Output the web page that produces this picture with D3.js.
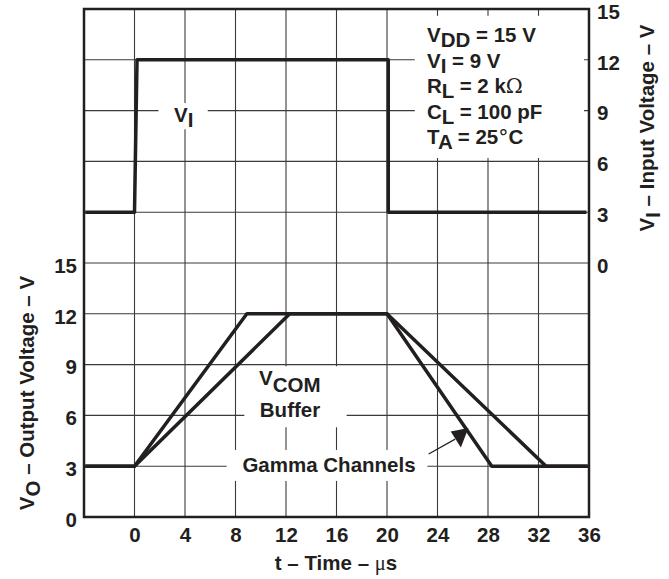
<!DOCTYPE html>
<html>
<head>
<meta charset="utf-8">
<script src="https://cdn.jsdelivr.net/npm/d3@7"></script>
<style>
  body { margin: 0; background: #fff; }
  svg text { font-family: "Liberation Sans", Arial, sans-serif; font-weight: bold; fill: #231f20; }
</style>
</head>
<body>
<svg width="669" height="579"></svg>
<script>
// time axis (us)
const timeTicks = [0, 4, 8, 12, 16, 20, 24, 28, 32, 36];
const outTicks = [0, 3, 6, 9, 12, 15];   // left axis, V_O
const inTicks = [0, 3, 6, 9, 12, 15];    // right axis, V_I

// V_I input step (right axis)
const viTime = [-3.9, 0, 0.2, 20.1, 20.1, 35.8];
const viVolt = [3, 3, 12, 12, 3, 3];

// gamma channels (fast edges)
const gammaTime = [-3.9, 0, 8.9, 20, 28.3, 35.9];
const gammaVolt = [3, 3, 12, 12, 3, 3];

// vcom buffer (slow edges)
const vcomTime = [-3.9, 0, 12.3, 20, 32.6, 35.9];
const vcomVolt = [3, 3, 12, 12, 3, 3];

const conditions = [
  ["V", "DD", " = 15 V"],
  ["V", "I", " = 9 V"],
  ["R", "L", " = 2 k", "Ω"],
  ["C", "L", " = 100 pF"],
  ["T", "A", " = 25", "°", "C"]
];

const svg = d3.select("svg");
const fs = 20.5;

var x = d3.scaleLinear().domain([-4, 36]).range([84, 589]);
var yL = d3.scaleLinear().domain([0, 30]).range([517, 9]);
var yR = d3.scaleLinear().domain([-15, 15]).range([517, 9]);

// grid
var grid = svg.append("g").attr("stroke", "#3a3a3a").attr("stroke-width", 1.1);
d3.range(0, 36, 4).forEach((t) => {
  grid.append("line").attr("x1", x(t)).attr("x2", x(t)).attr("y1", yL(0)).attr("y2", yL(30));
});
d3.range(3, 30, 3).forEach((v) => {
  grid.append("line").attr("x1", x(-4)).attr("x2", x(36)).attr("y1", yL(v)).attr("y2", yL(v));
});

// white boxes behind labels (in data units: t0,t1, v0,v1 on left scale)
var boxes = [
  [1.9, 5.8, 22.9, 24.45],    // V_I
  [8.7, 16.8, 5.3, 8.9],      // V_COM buffer
  [7.3, 23.2, 2.13, 3.96],    // gamma channels
  [22.2, 35.6, 21.2, 29.6]    // conditions
];
svg.append("g").selectAll("rect").data(boxes).join("rect")
  .attr("x", (d) => x(d[0])).attr("width", (d) => x(d[1]) - x(d[0]))
  .attr("y", (d) => yL(d[3])).attr("height", (d) => yL(d[2]) - yL(d[3]))
  .attr("fill", "#fff");

// frame
svg.append("rect")
  .attr("x", x(-4)).attr("y", yL(30))
  .attr("width", x(36) - x(-4)).attr("height", yL(0) - yL(30))
  .attr("fill", "none").attr("stroke", "#231f20").attr("stroke-width", 2.5);

// traces
function trace(ts, vs, yScale) {
  var line = d3.line().x((d) => x(d[0])).y((d) => yScale(d[1]));
  svg.append("path")
    .attr("d", line(d3.zip(ts, vs)))
    .attr("fill", "none").attr("stroke", "#231f20")
    .attr("stroke-width", 3.5).attr("stroke-linejoin", "round");
}
trace(viTime, viVolt, yR);
trace(gammaTime, gammaVolt, yL);
trace(vcomTime, vcomVolt, yL);

// axes
var axL = svg.append("g").attr("transform", `translate(${x(-4)},0)`)
  .call(d3.axisLeft(yL).tickValues(outTicks).tickSize(0).tickPadding(7).tickFormat(d3.format("d")));
var axR = svg.append("g").attr("transform", `translate(${x(36)},0)`)
  .call(d3.axisRight(yR).tickValues(inTicks).tickSize(0).tickPadding(8).tickFormat(d3.format("d")));
var axB = svg.append("g").attr("transform", `translate(0,${yL(0)})`)
  .call(d3.axisBottom(x).tickValues(timeTicks).tickSize(0).tickPadding(10).tickFormat(d3.format("d")));
[axL, axR, axB].forEach((a) => {
  a.select(".domain").remove();
  a.selectAll("text").attr("font-size", fs).attr("font-family", null);
});
// labels on the side axes sit a little below their grid line
axL.selectAll("text").attr("dy", "0.45em");
axR.selectAll("text").attr("dy", "0.45em");

// axis titles
svg.append("text").attr("x", 336).attr("y", 570).attr("text-anchor", "middle").attr("font-size", fs)
  .call((t) => {
    t.append("tspan").text("t – Time – ");
    t.append("tspan").text("μ").attr("font-family", "Liberation Serif").attr("font-weight", "normal");
    t.append("tspan").text("s");
  });

svg.append("text").attr("transform", "translate(34,393) rotate(-90)").attr("text-anchor", "middle").attr("font-size", fs)
  .call((t) => {
    t.append("tspan").text("V");
    t.append("tspan").text("O").attr("dy", 6);
    t.append("tspan").text(" – Output Voltage – V").attr("dy", -6);
  });

svg.append("text").attr("transform", "translate(654,128) rotate(-90)").attr("text-anchor", "middle").attr("font-size", fs)
  .call((t) => {
    t.append("tspan").text("V");
    t.append("tspan").text("I").attr("dy", 6);
    t.append("tspan").text(" – Input Voltage – V").attr("dy", -6);
  });

// conditions block
conditions.forEach((c, i) => {
  var t = svg.append("text").attr("x", 427).attr("y", 42 + i * 25.5).attr("font-size", fs);
  t.append("tspan").text(c[0]);
  t.append("tspan").text(c[1]).attr("dy", 5);
  t.append("tspan").text(c[2]).attr("dy", -5);
  if (c[3]) t.append("tspan").text(c[3]).attr("font-weight", "normal").attr("font-family", "DejaVu Serif");
  if (c[4]) t.append("tspan").text(c[4]);
});

// trace labels
var vi = svg.append("text").attr("x", 174).attr("y", 122).attr("font-size", fs);
vi.append("tspan").text("V");
vi.append("tspan").text("I").attr("dy", 5);

var vc = svg.append("text").attr("x", 259).attr("y", 385).attr("font-size", fs);
vc.append("tspan").text("V");
vc.append("tspan").text("COM").attr("dy", 7);
svg.append("text").attr("x", 290).attr("y", 417).attr("text-anchor", "middle").attr("font-size", fs).text("Buffer");

svg.append("text").attr("x", 329).attr("y", 472).attr("text-anchor", "middle").attr("font-size", fs).text("Gamma Channels");

// arrow to gamma trace
var arrowLine = [[23.3, 3.72], [25.4, 4.6]];
var arrowHead = [[25.05, 5.05], [26.45, 5.25], [25.85, 4.1]];
svg.append("line")
  .attr("x1", x(arrowLine[0][0])).attr("y1", yL(arrowLine[0][1]))
  .attr("x2", x(arrowLine[1][0])).attr("y2", yL(arrowLine[1][1]))
  .attr("stroke", "#231f20").attr("stroke-width", 1.2);
svg.append("polygon")
  .attr("points", arrowHead.map((p) => [x(p[0]), yL(p[1])].join(",")).join(" "))
  .attr("fill", "#231f20");
</script>
</body>
</html>
